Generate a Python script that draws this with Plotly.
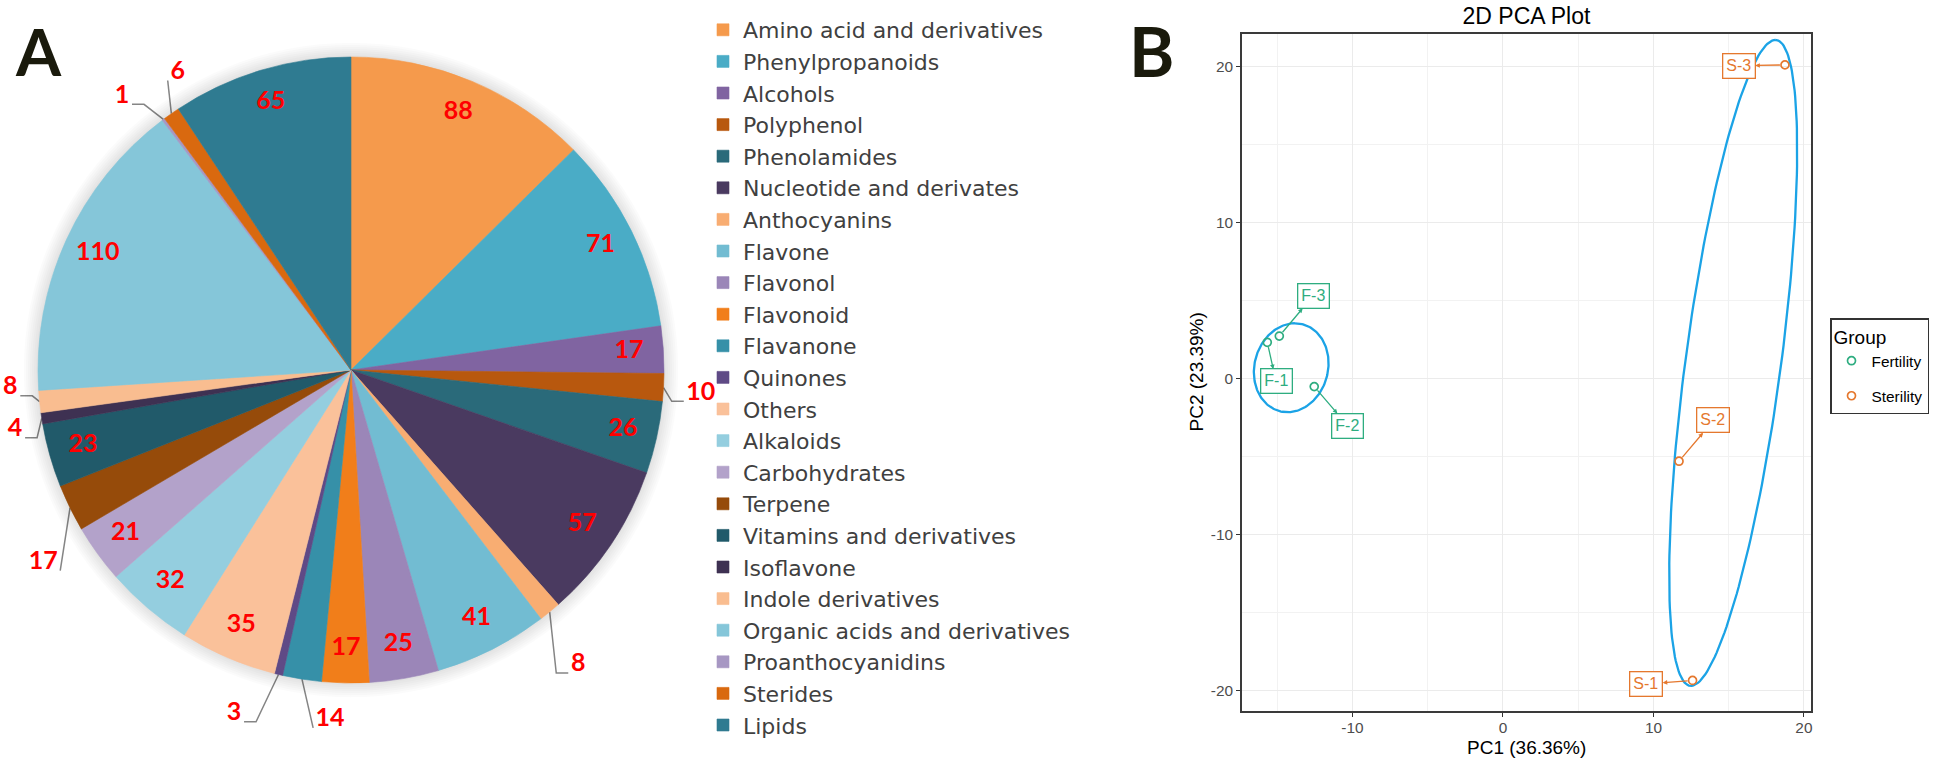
import numpy as np
import plotly.graph_objects as go

# ---------------- data: panel A (pie) ----------------
categories = ["Amino acid and derivatives", "Phenylpropanoids", "Alcohols", "Polyphenol",
              "Phenolamides", "Nucleotide and derivates", "Anthocyanins", "Flavone", "Flavonol",
              "Flavonoid", "Flavanone", "Quinones", "Others", "Alkaloids", "Carbohydrates",
              "Terpene", "Vitamins and derivatives", "Isoflavone", "Indole derivatives",
              "Organic acids and derivatives", "Proanthocyanidins", "Sterides", "Lipids"]
counts = [88, 71, 17, 10, 26, 57, 8, 41, 25, 17, 14, 3, 35, 32, 21, 17, 23, 4, 8, 110, 1, 6, 65]
slice_colors = ["#F59A4C", "#4AACC6", "#8064A1", "#B8580E", "#2A6A7A", "#4A3A60", "#F8AD72",
                "#72BCD2", "#9B86B8", "#F17E1A", "#3690A8", "#5F4A86", "#FAC19A", "#94CEDF",
                "#B3A2CA", "#964B0A", "#215A6A", "#3E3152", "#F9BD90", "#85C6D9", "#A797C3",
                "#D9690F", "#2F7B91"]

# ---------------- data: panel B (PCA) ----------------
samples = ["F-1", "F-2", "F-3", "S-1", "S-2", "S-3"]
groups = ["Fertility", "Fertility", "Fertility", "Sterility", "Sterility", "Sterility"]
pc1 = [-15.66, -12.54, -14.86, 12.6, 11.7, 18.74]
pc2 = [2.32, -0.52, 2.72, -19.35, -5.3, 20.1]
group_names = ["Fertility", "Sterility"]
# ellipses: centre, conjugate half-axes (a: top direction, b: horizontal)
ellipse_center = {"Fertility": (-14.07, 0.69), "Sterility": (15.3, 1.0)}
ellipse_a = {"Fertility": (0.25, 2.85), "Sterility": (2.8, 20.7)}
ellipse_b = {"Fertility": (2.47, 0.0), "Sterility": (3.2, 0.0)}
x_tickvals = [-10, 0, 10, 20]
y_tickvals = [-20, -10, 0, 10, 20]

# ---------------- styles / label layout ----------------
W, H = 1946, 762
group_colors = {"Fertility": "#2EAD80", "Sterility": "#E5782E"}
# label positions (data units) of the repelled sample labels
label_pos = {"F-1": (-15.08, -0.19), "F-2": (-10.3, -3.04), "F-3": (-12.62, 5.29),
             "S-1": (9.53, -19.58), "S-2": (13.99, -2.69), "S-3": (15.68, 20.04)}
# outside pie labels: (radius, angle nudge in degrees)
outside_layout = {"Polyphenol": (1.12, 0.6), "Anthocyanins": (1.19, 1.8), "Flavanone": (1.12, -5.6),
                  "Quinones": (1.16, 5.4), "Terpene": (1.16, -5.9), "Isoflavone": (1.09, -1.2),
                  "Indole derivatives": (1.09, 2.8), "Proanthocyanidins": (1.14, -3.1),
                  "Sterides": (1.10, 4.8)}
inside_r = 0.89

# pie geometry (px): centre and radius
pcx, pcy, pr = 351, 370, 313
polar_R = pcx  # polar disc radius in px (limited by left page edge)
rmax = polar_R / pr

fig = go.Figure()

vals = np.array(counts, dtype=float)
total = vals.sum()
start = np.cumsum(vals) - vals
mid_deg = (start + vals / 2) / total * 360
width_deg = vals / total * 360

# soft shadow around the pie (overlaid translucent discs)
for k in range(7):
    fig.add_trace(go.Barpolar(r=[1.0 + 0.0065 * (k + 1)], theta=[0], width=[360],
                              marker=dict(color="rgba(0,0,0,0.017)", line=dict(width=0)),
                              showlegend=False, hoverinfo="skip"))

for i, cat in enumerate(categories):
    fig.add_trace(go.Barpolar(r=[1.0], theta=[mid_deg[i]], width=[width_deg[i]], name=cat,
                              marker=dict(color=slice_colors[i],
                                          line=dict(color=slice_colors[i], width=0.6)),
                              legend="legend"))

label_font = dict(family="Lato", size=25, color="#FF0000", weight="bold")

# inside labels (polar, drawn above the slices)
in_r, in_t, in_txt = [], [], []
for i, cat in enumerate(categories):
    if cat not in outside_layout:
        in_r.append(inside_r); in_t.append(mid_deg[i]); in_txt.append(str(counts[i]))
fig.add_trace(go.Scatterpolar(r=in_r, theta=in_t, text=in_txt, mode="text",
                              textfont=label_font, showlegend=False, cliponaxis=False,
                              hoverinfo="skip"))

# outside labels + elbow leader lines on an equal-scale overlay axis centred on the pie
u = 1.0 / pr  # one pixel in overlay units
out_x, out_y, out_txt = [], [], []
lx, ly = [], []
for i, cat in enumerate(categories):
    if cat in outside_layout:
        rr, dt = outside_layout[cat]
        th = np.deg2rad(mid_deg[i] + dt)
        th0 = np.deg2rad(mid_deg[i])
        Lx, Ly = rr * np.sin(th), rr * np.cos(th)
        out_x.append(Lx); out_y.append(Ly); out_txt.append(str(counts[i]))
        sx, sy = np.sin(th0), np.cos(th0)
        hw = 7 * len(str(counts[i])) + 3
        d = -1 if sx < Lx else 1
        ex, ey = Lx + d * hw * u, Ly - 8 * u
        xs, ys = [sx], [sy]
        if abs(sx - ex) > 14 * u:
            xs.append(ex + d * 12 * u); ys.append(ey)
        xs += [ex, None]; ys += [ey, None]
        lx += xs; ly += ys
fig.add_trace(go.Scatter(x=lx, y=ly, mode="lines", line=dict(color="#858585", width=1.5),
                         showlegend=False, hoverinfo="skip", xaxis="x3", yaxis="y3"))
fig.add_trace(go.Scatter(x=out_x, y=out_y, text=out_txt, mode="text", textfont=label_font,
                         showlegend=False, cliponaxis=False, hoverinfo="skip",
                         xaxis="x3", yaxis="y3"))

# ---------------- PCA panel ----------------
t = np.linspace(0, 2 * np.pi, 200)
for g in group_names:
    cx, cy = ellipse_center[g]
    ax_, ay_ = ellipse_a[g]
    bx_, by_ = ellipse_b[g]
    fig.add_trace(go.Scatter(x=cx + ax_ * np.cos(t) + bx_ * np.sin(t),
                             y=cy + ay_ * np.cos(t) + by_ * np.sin(t),
                             mode="lines", line=dict(color="#1BA3E6", width=2.3),
                             showlegend=False, hoverinfo="skip", xaxis="x", yaxis="y"))

for g in group_names:
    idx = [i for i, gg in enumerate(groups) if gg == g]
    fig.add_trace(go.Scatter(x=[pc1[i] for i in idx], y=[pc2[i] for i in idx], mode="markers",
                             name=g, legend="legend2", legendgroup=g,
                             marker=dict(symbol="circle-open", size=8,
                                         color=group_colors[g], line=dict(width=1.7))))

annotations = []
for i, s in enumerate(samples):
    col = group_colors[groups[i]]
    lxp, lyp = label_pos[s]
    annotations.append(dict(x=pc1[i], y=pc2[i], xref="x", yref="y", ax=lxp, ay=lyp,
                            axref="x", ayref="y", text=s, showarrow=True,
                            font=dict(family="Liberation Sans", size=16, color=col),
                            bordercolor=col, borderwidth=1.3, borderpad=3, bgcolor="white",
                            arrowcolor=col, arrowwidth=1.3, arrowside="start",
                            startarrowhead=2, startarrowsize=0.7, standoff=5))

annotations.append(dict(text="A", x=38 / W, y=1 - 51 / H, xref="paper", yref="paper",
                        showarrow=False, xanchor="center", yanchor="middle",
                        font=dict(family="Lato", size=65, color="#1A1A0C", weight="bold")))
annotations.append(dict(text="B", x=1151 / W, y=1 - 51 / H, xref="paper", yref="paper",
                        showarrow=False, xanchor="center", yanchor="middle",
                        font=dict(family="Lato", size=69, color="#1A1A0C", weight="bold")))

px_l, px_r, px_t, px_b = 1242, 1811, 34, 711
annotations.append(dict(text="PC1 (36.36%)", x=(px_l + px_r) / 2 / W, y=1 - 747 / H,
                        xref="paper", yref="paper", showarrow=False,
                        xanchor="center", yanchor="middle", borderpad=0,
                        font=dict(family="Liberation Sans", size=19, color="#000000")))
annotations.append(dict(text="PC2 (23.39%)", x=1196 / W, y=1 - (px_t + px_b) / 2 / H,
                        xref="paper", yref="paper", showarrow=False, textangle=-90,
                        xanchor="center", yanchor="middle",
                        font=dict(family="Liberation Sans", size=19, color="#000000")))

ov_top, ov_bot = 10, 730
fig.update_layout(
    width=W, height=H, margin=dict(l=0, r=0, t=0, b=0),
    paper_bgcolor="white", plot_bgcolor="rgba(0,0,0,0)",
    font=dict(family="Liberation Sans", color="#000000"),
    polar=dict(domain=dict(x=[(pcx - polar_R) / W, (pcx + polar_R) / W],
                           y=[1 - (pcy + polar_R) / H, 1 - (pcy - polar_R) / H]),
               bgcolor="rgba(0,0,0,0)", bargap=0, hole=0, barmode="overlay",
               radialaxis=dict(visible=False, range=[0, rmax], showgrid=False),
               angularaxis=dict(visible=False, rotation=90, direction="clockwise",
                                showgrid=False, showline=False)),
    xaxis3=dict(domain=[0, 2 * pcx / W], range=[-pcx / pr, pcx / pr], anchor="y3",
                visible=False, showgrid=False, zeroline=False, fixedrange=True),
    yaxis3=dict(domain=[1 - ov_bot / H, 1 - ov_top / H],
                range=[-(ov_bot - pcy) / pr, (pcy - ov_top) / pr], anchor="x3",
                visible=False, showgrid=False, zeroline=False, fixedrange=True),
    xaxis=dict(domain=[px_l / W, px_r / W], range=[-17.34, 20.47], anchor="y",
               tickvals=x_tickvals, ticktext=[str(v) for v in x_tickvals],
               showgrid=True, gridcolor="#EBEBEB", gridwidth=1.4,
               minor=dict(tickvals=[-15, -5, 5, 15], showgrid=True, gridcolor="#F2F2F2",
                          gridwidth=1, ticks=""),
               showline=True, linecolor="#3A3A3A", linewidth=1.8, mirror=True,
               ticks="outside", ticklen=4, tickwidth=1.4, tickcolor="#333333",
               ticklabelstandoff=-2,
               tickfont=dict(size=15.4, color="#4D4D4D"), zeroline=False),
    yaxis=dict(domain=[1 - px_b / H, 1 - px_t / H], range=[-21.31, 22.08], anchor="x",
               tickvals=y_tickvals, ticktext=[str(v) for v in y_tickvals],
               showgrid=True, gridcolor="#EBEBEB", gridwidth=1.4,
               minor=dict(tickvals=[-15, -5, 5, 15], showgrid=True, gridcolor="#F2F2F2",
                          gridwidth=1, ticks=""),
               showline=True, linecolor="#3A3A3A", linewidth=1.8, mirror=True,
               ticks="outside", ticklen=4, tickwidth=1.4, tickcolor="#333333",
               tickfont=dict(size=15.4, color="#4D4D4D"), zeroline=False),
    title=dict(text="2D PCA Plot", x=(px_l + px_r) / 2 / W, xanchor="center",
               y=1 - 16 / H, yanchor="middle", font=dict(size=23, color="#000000")),
    legend=dict(x=703 / W, y=1 - 9 / H, xanchor="left", yanchor="top",
                font=dict(family="DejaVu Sans", size=22, color="#404040"),
                bgcolor="rgba(0,0,0,0)", tracegroupgap=0),
    legend2=dict(x=1830 / W, y=1 - 318 / H, xanchor="left", yanchor="top",
                 bordercolor="#333333", borderwidth=1.5, bgcolor="white",
                 title=dict(text="Group", font=dict(size=19, color="#000000")),
                 font=dict(size=15.4, color="#000000"), tracegroupgap=12),
    annotations=annotations,
    showlegend=True,
)

fig.write_html("out.html", config={"displayModeBar": False},
               post_script="document.body.style.margin='0px';"
                           "document.documentElement.style.overflow='hidden';")
